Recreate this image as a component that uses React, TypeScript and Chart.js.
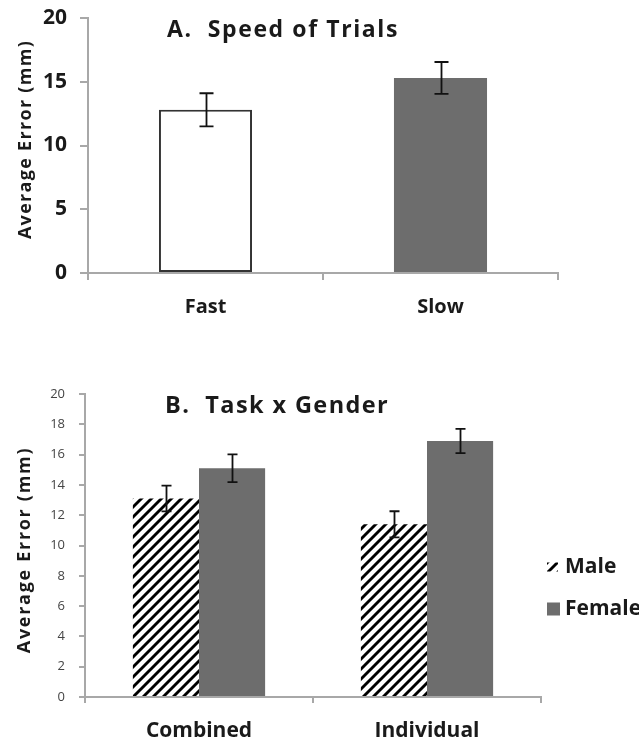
import React, { useEffect, useRef } from "react";
import { Chart, registerables } from "chart.js";

Chart.register(...registerables);

const FONT = "'Open Sans', Lato, sans-serif";

// ---------- Panel A data ----------
const speedTitle = "A.  Speed of Trials";
const speedCategories = ["Fast", "Slow"];
const speedValues = [12.8, 15.3];
const speedErrors = [1.3, 1.25];
const speedTicks = [0, 5, 10, 15, 20];

// ---------- Panel B data ----------
const taskTitle = "B.  Task x Gender";
const taskCategories = ["Combined", "Individual"];
const seriesLabels = ["Male", "Female"];
const maleValues = [13.1, 11.4];
const maleErrors = [0.85, 0.86];
const femaleValues = [15.1, 16.9];
const femaleErrors = [0.92, 0.8];
const taskTicks = [0, 2, 4, 6, 8, 10, 12, 14, 16, 18, 20];

const yAxisTitle = "Average Error (mm)";

const AXIS = "#a8a8a8";
const GREY = "#6d6d6d";
const INK = "#1a1a1a";

function makeHatch(ctx: CanvasRenderingContext2D) {
  const s = 10;
  const c = document.createElement("canvas");
  c.width = s;
  c.height = s;
  const g = c.getContext("2d")!;
  g.fillStyle = "#ffffff";
  g.fillRect(0, 0, s, s);
  g.strokeStyle = "#000000";
  g.lineWidth = 2.9;
  g.beginPath();
  g.moveTo(0, s);
  g.lineTo(s, 0);
  g.moveTo(-s / 2, s / 2);
  g.lineTo(s / 2, -s / 2);
  g.moveTo(s / 2, s * 1.5);
  g.lineTo(s * 1.5, s / 2);
  g.stroke();
  return ctx.createPattern(c, "repeat")!;
}

const decorPlugin = {
  id: "decor",
  afterDatasetsDraw(chart: any, _args: any, opts: any) {
    const ctx: CanvasRenderingContext2D = chart.ctx;
    const y = chart.scales.y;
    ctx.save();
    ctx.strokeStyle = "#111111";
    ctx.lineWidth = opts.errWidth;
    chart.data.datasets.forEach((ds: any, di: number) => {
      const meta = chart.getDatasetMeta(di);
      meta.data.forEach((el: any, i: number) => {
        const v = ds.data[i];
        const e = ds.errors[i];
        const x = Math.round(el.x) + 0.5;
        const yt = y.getPixelForValue(v + e);
        const yb = y.getPixelForValue(v - e);
        ctx.beginPath();
        ctx.moveTo(x, yt);
        ctx.lineTo(x, yb);
        ctx.moveTo(x - opts.cap, yt);
        ctx.lineTo(x + opts.cap, yt);
        ctx.moveTo(x - opts.cap, yb);
        ctx.lineTo(x + opts.cap, yb);
        ctx.stroke();
      });
    });
    ctx.restore();
  },
  afterDraw(chart: any, _args: any, opts: any) {
    const ctx: any = chart.ctx;
    const ca = chart.chartArea;
    // panel title
    ctx.save();
    ctx.fillStyle = INK;
    ctx.font = `bold ${opts.titleSize}px ${FONT}`;
    ctx.letterSpacing = `${opts.titleSpacing}px`;
    ctx.textAlign = "left";
    ctx.textBaseline = "alphabetic";
    ctx.fillText(opts.title, ca.left + opts.titleDx, ca.top + opts.titleDy);
    ctx.restore();

    // y axis title
    ctx.save();
    ctx.fillStyle = INK;
    ctx.font = `bold ${opts.yTitleSize}px ${FONT}`;
    ctx.letterSpacing = `${opts.yTitleSpacing}px`;
    ctx.translate(opts.yTitleX, (ca.top + ca.bottom) / 2 + opts.yTitleDy);
    ctx.rotate(-Math.PI / 2);
    ctx.textAlign = "center";
    ctx.textBaseline = "alphabetic";
    ctx.fillText(yAxisTitle, 0, 0);
    ctx.restore();

    // legend
    if (opts.legend) {
      const L = opts.legend;
      chart.data.datasets.forEach((ds: any, i: number) => {
        const cy = L.y + i * L.gap;
        ctx.save();
        ctx.fillStyle = ds.backgroundColor;
        if (i === 0) {
          ctx.fillRect(L.x, cy - L.box / 2 + 2, L.box - 2, L.box - 4);
        } else {
          ctx.fillRect(L.x, cy - L.box / 2, L.box, L.box);
        }
        ctx.fillStyle = INK;
        ctx.font = `bold ${L.size}px ${FONT}`;
        ctx.letterSpacing = `${L.spacing}px`;
        ctx.textAlign = "left";
        ctx.textBaseline = "middle";
        ctx.fillText(ds.label, L.textX, cy);
        ctx.restore();
      });
    }
  },
};

function axisCommon(tickLength: number) {
  return {
    grid: {
      display: true,
      drawOnChartArea: false,
      drawTicks: true,
      tickLength,
      color: AXIS,
      lineWidth: 2,
    },
    border: { display: true, color: AXIS, width: 2 },
  };
}

export default function App() {
  const refA = useRef<HTMLCanvasElement | null>(null);
  const refB = useRef<HTMLCanvasElement | null>(null);

  useEffect(() => {
    let chartA: Chart | null = null;
    let chartB: Chart | null = null;
    let cancelled = false;

    const build = () => {
      if (cancelled || !refA.current || !refB.current) return;

      chartA = new Chart(refA.current, {
        type: "bar",
        data: {
          labels: speedCategories,
          datasets: [
            {
              label: "Average Error",
              data: speedValues,
              errors: speedErrors,
              backgroundColor: ["#ffffff", GREY],
              borderColor: ["#333333", GREY],
              borderWidth: [2, 0],
              borderSkipped: false,
              barPercentage: 0.396,
              categoryPercentage: 1,
            } as any,
          ],
        },
        options: {
          responsive: false,
          animation: false,
          events: [],
          layout: { padding: { left: 0, top: 18, right: 81, bottom: 0 } },
          plugins: {
            legend: { display: false },
            tooltip: { enabled: false },
            decor: {
              errWidth: 1.8,
              cap: 7,
              title: speedTitle,
              titleSize: 23,
              titleSpacing: 1.6,
              titleDx: 79,
              titleDy: 18.5,
              yTitleSize: 18,
              yTitleSpacing: 1.3,
              yTitleX: 31,
              yTitleDy: -6,
            },
          } as any,
          scales: {
            x: {
              ...axisCommon(7),
              grid: { ...axisCommon(7).grid, offset: true },
              ticks: {
                font: { family: FONT, size: 20, weight: "bold" },
                color: INK,
                padding: 15,
              },
              afterFit: (s: any) => {
                s.height = 67;
              },
            },
            y: {
              ...axisCommon(8),
              min: 0,
              max: 20,
              afterBuildTicks: (s: any) => {
                s.ticks = speedTicks.map((v) => ({ value: v }));
              },
              ticks: {
                font: { family: FONT, size: 21, weight: "bold" },
                color: INK,
                padding: 13,
              },
              afterFit: (s: any) => {
                s.width = 88;
                s.paddingTop = 0;
                s.paddingBottom = 0;
              },
            },
          } as any,
        },
        plugins: [decorPlugin as any],
      });

      const hatch = makeHatch(refB.current.getContext("2d")!);

      chartB = new Chart(refB.current, {
        type: "bar",
        data: {
          labels: taskCategories,
          datasets: [
            {
              label: seriesLabels[0],
              data: maleValues,
              errors: maleErrors,
              backgroundColor: hatch,
              borderWidth: 0,
              barPercentage: 1,
              categoryPercentage: 0.58,
            } as any,
            {
              label: seriesLabels[1],
              data: femaleValues,
              errors: femaleErrors,
              backgroundColor: GREY,
              borderWidth: 0,
              barPercentage: 1,
              categoryPercentage: 0.58,
            } as any,
          ],
        },
        options: {
          responsive: false,
          animation: false,
          events: [],
          layout: { padding: { left: 0, top: 34, right: 98, bottom: 0 } },
          plugins: {
            legend: { display: false },
            tooltip: { enabled: false },
            decor: {
              errWidth: 1.8,
              cap: 5,
              title: taskTitle,
              titleSize: 23.5,
              titleSpacing: 1.4,
              titleDx: 80,
              titleDy: 19,
              yTitleSize: 18,
              yTitleSpacing: 1.7,
              yTitleX: 30,
              yTitleDy: 4.5,
              legend: {
                x: 547,
                textX: 565,
                y: 207,
                gap: 42,
                box: 13,
                size: 21,
                spacing: 0,
              },
            },
          } as any,
          scales: {
            x: {
              ...axisCommon(6),
              grid: { ...axisCommon(6).grid, offset: true },
              ticks: {
                font: { family: FONT, size: 21, weight: "bold" },
                color: INK,
                padding: 15,
              },
              afterFit: (s: any) => {
                s.height = 43;
              },
            },
            y: {
              ...axisCommon(6),
              min: 0,
              max: 20,
              afterBuildTicks: (s: any) => {
                s.ticks = taskTicks.map((v) => ({ value: v }));
              },
              ticks: {
                font: { family: FONT, size: 13 },
                color: "#444444",
                padding: 14,
              },
              afterFit: (s: any) => {
                s.width = 85;
                s.paddingTop = 0;
                s.paddingBottom = 0;
              },
            },
          } as any,
        },
        plugins: [decorPlugin as any],
      });
    };

    const fontsReady =
      (document as any).fonts && (document as any).fonts.load
        ? Promise.all([
            (document as any).fonts.load(`bold 22px 'Open Sans'`),
            (document as any).fonts.load(`13px 'Open Sans'`),
          ]).catch(() => null)
        : Promise.resolve(null);
    fontsReady.then(build);

    return () => {
      cancelled = true;
      if (chartA) chartA.destroy();
      if (chartB) chartB.destroy();
    };
  }, []);

  return (
    <div
      style={{
        position: "absolute",
        left: 0,
        top: 0,
        width: 639,
        height: 740,
        overflow: "hidden",
        background: "#ffffff",
      }}
    >
      <canvas
        ref={refA}
        width={639}
        height={340}
        style={{ position: "absolute", left: 0, top: 0, display: "block" }}
      />
      <canvas
        ref={refB}
        width={639}
        height={380}
        style={{ position: "absolute", left: 0, top: 360, display: "block" }}
      />
    </div>
  );
}
